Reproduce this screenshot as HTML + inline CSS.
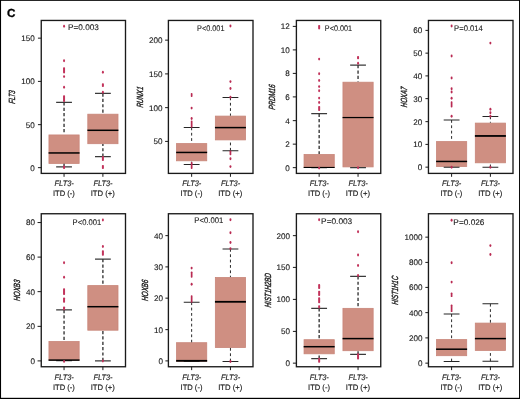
<!DOCTYPE html>
<html lang="en">
<head>
<meta charset="utf-8">
<title>Figure C</title>
<style>
html,body{margin:0;padding:0;background:#fff;}
body{width:520px;height:399px;overflow:hidden;}
svg{display:block;}
</style>
</head>
<body>
<svg width="520" height="399" viewBox="0 0 520 399" font-family="'Liberation Sans', sans-serif" role="img" aria-label="Box plots of gene expression by FLT3-ITD status" text-rendering="geometricPrecision">
<rect x="0" y="0" width="520" height="399" fill="#fff"/>
<rect x="0" y="0" width="520" height="0.85" fill="#000"/>
<rect x="0" y="0" width="1.05" height="399" fill="#000"/>
<rect x="519.05" y="0" width="0.95" height="399" fill="#000"/>
<rect x="0" y="397.8" width="520" height="1.2" fill="#000"/>
<text x="7.1" y="17.35" font-size="11.7" font-weight="bold" fill="#000" stroke="#000" stroke-width="0.3">C</text>
<g>
<rect x="48.95" y="134.95" width="30.2" height="28.45" fill="#cf8f82" stroke="#c88579" stroke-width="0.8"/>
<path d="M64.05 102.35V134.55M64.05 166.9V163.8" stroke="#2a2a2a" stroke-width="1.3" stroke-dasharray="3.2 2.15" fill="none"/>
<path d="M56.15 102.35H71.95M56.15 166.9H71.95" stroke="#3a3a3a" stroke-width="1.3" fill="none"/>
<path d="M48.55 152.95H79.55" stroke="#000" stroke-width="1.5" fill="none"/>
<rect x="87.8" y="114.2" width="30.2" height="29.5" fill="#cf8f82" stroke="#c88579" stroke-width="0.8"/>
<path d="M102.9 93.45V113.8M102.9 156.7V144.1" stroke="#2a2a2a" stroke-width="1.3" stroke-dasharray="3.2 2.15" fill="none"/>
<path d="M95 93.45H110.8M95 156.7H110.8" stroke="#3a3a3a" stroke-width="1.3" fill="none"/>
<path d="M87.4 130.3H118.4" stroke="#000" stroke-width="1.5" fill="none"/>
<ellipse cx="64.05" cy="26.3" rx="1" ry="1.45" fill="#c2335b"/>
<ellipse cx="64.05" cy="60.7" rx="1" ry="1.45" fill="#c2335b"/>
<rect x="63.05" y="67.2" width="2" height="6.2" rx="0.8" fill="#c2335b"/>
<ellipse cx="64.05" cy="76.6" rx="1" ry="1.45" fill="#c2335b"/>
<ellipse cx="64.05" cy="87.2" rx="1" ry="1.45" fill="#c2335b"/>
<rect x="63.05" y="95.3" width="2" height="6.7" rx="0.8" fill="#c2335b"/>
<rect x="63.05" y="165.5" width="2" height="3.5" rx="0.8" fill="#c2335b"/>
<ellipse cx="102.9" cy="72.2" rx="1" ry="1.45" fill="#c2335b"/>
<rect x="101.9" y="83.2" width="2" height="3.9" rx="0.8" fill="#c2335b"/>
<ellipse cx="102.9" cy="92.2" rx="1" ry="1.45" fill="#c2335b"/>
<rect x="101.9" y="156" width="2" height="5" rx="0.8" fill="#c2335b"/>
<rect x="101.9" y="164.9" width="2" height="4.2" rx="0.8" fill="#c2335b"/>
<rect x="41.25" y="20.45" width="84.25" height="152.95" fill="none" stroke="#1a1a1a" stroke-width="1.35"/>
<path d="M37.95 38.15H41.25" stroke="#1a1a1a" stroke-width="1"/>
<text x="34.65" y="41" font-size="8.1" text-anchor="end" fill="#1a1a1a" stroke="#1a1a1a" stroke-width="0.12">150</text>
<path d="M37.95 81.4H41.25" stroke="#1a1a1a" stroke-width="1"/>
<text x="34.65" y="84.25" font-size="8.1" text-anchor="end" fill="#1a1a1a" stroke="#1a1a1a" stroke-width="0.12">100</text>
<path d="M37.95 124.65H41.25" stroke="#1a1a1a" stroke-width="1"/>
<text x="34.65" y="127.5" font-size="8.1" text-anchor="end" fill="#1a1a1a" stroke="#1a1a1a" stroke-width="0.12">50</text>
<path d="M37.95 167.65H41.25" stroke="#1a1a1a" stroke-width="1"/>
<text x="34.65" y="170.5" font-size="8.1" text-anchor="end" fill="#1a1a1a" stroke="#1a1a1a" stroke-width="0.12">0</text>
<path d="M64.05 173.4V176.8" stroke="#1a1a1a" stroke-width="1"/>
<text x="54.55" y="186.45" font-size="7.9" font-style="italic" textLength="19.2" lengthAdjust="spacingAndGlyphs" fill="#1a1a1a" stroke="#1a1a1a" stroke-width="0.15">FLT3-</text>
<text x="52.95" y="196.2" font-size="7.9" textLength="21.9" lengthAdjust="spacingAndGlyphs" fill="#1a1a1a" stroke="#1a1a1a" stroke-width="0.15">ITD (-)</text>
<path d="M102.9 173.4V176.8" stroke="#1a1a1a" stroke-width="1"/>
<text x="93.4" y="186.45" font-size="7.9" font-style="italic" textLength="19.2" lengthAdjust="spacingAndGlyphs" fill="#1a1a1a" stroke="#1a1a1a" stroke-width="0.15">FLT3-</text>
<text x="90.65" y="196.2" font-size="7.9" textLength="24.2" lengthAdjust="spacingAndGlyphs" fill="#1a1a1a" stroke="#1a1a1a" stroke-width="0.15">ITD (+)</text>
<text x="68" y="29.9" font-size="8.1" textLength="30.9" lengthAdjust="spacingAndGlyphs" fill="#1a1a1a" stroke="#1a1a1a" stroke-width="0.1">P=0.003</text>
<text transform="translate(15.4 97.33) rotate(-90) scale(0.66 1) skewX(-12)" font-size="8.9" font-style="italic" text-anchor="middle" fill="#1a1a1a" stroke="#1a1a1a" stroke-width="0.4">FLT3</text>
</g>
<g>
<rect x="176.55" y="143.6" width="30.2" height="17.2" fill="#cf8f82" stroke="#c88579" stroke-width="0.8"/>
<path d="M191.65 127.45V143.2M191.65 164.45V161.2" stroke="#2a2a2a" stroke-width="1" stroke-dasharray="2.8 2.55" fill="none"/>
<path d="M183.75 127.45H199.55M183.75 164.45H199.55" stroke="#262626" stroke-width="1.05" fill="none"/>
<path d="M176.15 152.45H207.15" stroke="#000" stroke-width="1.5" fill="none"/>
<rect x="215.35" y="116.1" width="30.2" height="23.8" fill="#cf8f82" stroke="#c88579" stroke-width="0.8"/>
<path d="M230.45 97.45V115.7M230.45 150.7V140.3" stroke="#2a2a2a" stroke-width="1" stroke-dasharray="2.8 2.55" fill="none"/>
<path d="M222.55 97.45H238.35M222.55 150.7H238.35" stroke="#262626" stroke-width="1.05" fill="none"/>
<path d="M214.95 127.6H245.95" stroke="#000" stroke-width="1.5" fill="none"/>
<rect x="190.8" y="93" width="1.7" height="4" rx="0.68" fill="#b92a52"/>
<ellipse cx="191.65" cy="108.1" rx="1" ry="1.45" fill="#b92a52"/>
<ellipse cx="191.65" cy="118.45" rx="1" ry="1.45" fill="#b92a52"/>
<rect x="190.8" y="120.4" width="1.7" height="7.3" rx="0.68" fill="#b92a52"/>
<rect x="190.8" y="162" width="1.7" height="7" rx="0.68" fill="#b92a52"/>
<ellipse cx="230.45" cy="25.95" rx="1" ry="1.45" fill="#b92a52"/>
<ellipse cx="230.45" cy="81.6" rx="1" ry="1.45" fill="#b92a52"/>
<ellipse cx="230.45" cy="88.45" rx="1" ry="1.45" fill="#b92a52"/>
<ellipse cx="230.45" cy="97.2" rx="1" ry="1.45" fill="#b92a52"/>
<rect x="229.6" y="150.5" width="1.7" height="4.7" rx="0.68" fill="#b92a52"/>
<ellipse cx="230.45" cy="158.7" rx="1" ry="1.45" fill="#b92a52"/>
<ellipse cx="230.45" cy="166.6" rx="1" ry="1.45" fill="#b92a52"/>
<rect x="168.4" y="20.45" width="84.6" height="152.95" fill="none" stroke="#1a1a1a" stroke-width="1.35"/>
<path d="M165.1 40.15H168.4" stroke="#1a1a1a" stroke-width="1"/>
<text x="162.6" y="43" font-size="8.1" text-anchor="end" fill="#1a1a1a" stroke="#1a1a1a" stroke-width="0.12">200</text>
<path d="M165.1 73.9H168.4" stroke="#1a1a1a" stroke-width="1"/>
<text x="162.6" y="76.75" font-size="8.1" text-anchor="end" fill="#1a1a1a" stroke="#1a1a1a" stroke-width="0.12">150</text>
<path d="M165.1 107.65H168.4" stroke="#1a1a1a" stroke-width="1"/>
<text x="162.6" y="110.5" font-size="8.1" text-anchor="end" fill="#1a1a1a" stroke="#1a1a1a" stroke-width="0.12">100</text>
<path d="M165.1 141.4H168.4" stroke="#1a1a1a" stroke-width="1"/>
<text x="162.6" y="144.25" font-size="8.1" text-anchor="end" fill="#1a1a1a" stroke="#1a1a1a" stroke-width="0.12">50</text>
<path d="M191.65 173.4V176.8" stroke="#1a1a1a" stroke-width="1"/>
<text x="182.15" y="186.45" font-size="7.9" font-style="italic" textLength="19.2" lengthAdjust="spacingAndGlyphs" fill="#1a1a1a" stroke="#1a1a1a" stroke-width="0.15">FLT3-</text>
<text x="180.55" y="196.2" font-size="7.9" textLength="21.9" lengthAdjust="spacingAndGlyphs" fill="#1a1a1a" stroke="#1a1a1a" stroke-width="0.15">ITD (-)</text>
<path d="M230.45 173.4V176.8" stroke="#1a1a1a" stroke-width="1"/>
<text x="220.95" y="186.45" font-size="7.9" font-style="italic" textLength="19.2" lengthAdjust="spacingAndGlyphs" fill="#1a1a1a" stroke="#1a1a1a" stroke-width="0.15">FLT3-</text>
<text x="218.2" y="196.2" font-size="7.9" textLength="24.2" lengthAdjust="spacingAndGlyphs" fill="#1a1a1a" stroke="#1a1a1a" stroke-width="0.15">ITD (+)</text>
<text x="197.1" y="30.9" font-size="8.1" textLength="27.4" lengthAdjust="spacingAndGlyphs" fill="#1a1a1a" stroke="#1a1a1a" stroke-width="0.1">P&lt;0.001</text>
<text transform="translate(143 97.33) rotate(-90) scale(0.7 1) skewX(-12)" font-size="8.9" font-style="italic" text-anchor="middle" fill="#1a1a1a" stroke="#1a1a1a" stroke-width="0.4">RUNX1</text>
</g>
<g>
<rect x="304.05" y="154.5" width="30.2" height="12.9" fill="#cf8f82" stroke="#c88579" stroke-width="0.8"/>
<path d="M319.15 113.7V154.1" stroke="#2a2a2a" stroke-width="1.3" stroke-dasharray="3.2 2.15" fill="none"/>
<path d="M311.25 113.7H327.05M311.25 167.6H327.05" stroke="#3a3a3a" stroke-width="1.3" fill="none"/>
<path d="M303.65 167.45H334.65" stroke="#000" stroke-width="1.1" fill="none"/>
<rect x="342.95" y="82.2" width="30.2" height="84.7" fill="#cf8f82" stroke="#c88579" stroke-width="0.8"/>
<path d="M358.05 65.1V81.8" stroke="#2a2a2a" stroke-width="1.3" stroke-dasharray="3.2 2.15" fill="none"/>
<path d="M350.15 65.1H365.95M350.15 167.7H365.95" stroke="#3a3a3a" stroke-width="1.3" fill="none"/>
<path d="M342.55 117.55H373.55" stroke="#000" stroke-width="1.25" fill="none"/>
<rect x="318.15" y="25" width="2" height="4.4" rx="0.8" fill="#c2335b"/>
<ellipse cx="319.15" cy="59.1" rx="1" ry="1.45" fill="#c2335b"/>
<ellipse cx="319.15" cy="73.7" rx="1" ry="1.45" fill="#c2335b"/>
<ellipse cx="319.15" cy="80.45" rx="1" ry="1.45" fill="#c2335b"/>
<ellipse cx="319.15" cy="86.6" rx="1" ry="1.45" fill="#c2335b"/>
<ellipse cx="319.15" cy="90.7" rx="1" ry="1.45" fill="#c2335b"/>
<ellipse cx="319.15" cy="98.1" rx="1" ry="1.45" fill="#c2335b"/>
<ellipse cx="319.15" cy="102.45" rx="1" ry="1.45" fill="#c2335b"/>
<rect x="318.15" y="105.95" width="2" height="5" rx="0.8" fill="#c2335b"/>
<ellipse cx="319.15" cy="168.1" rx="1" ry="1.45" fill="#c2335b"/>
<rect x="357.05" y="56" width="2" height="3.2" rx="0.8" fill="#c2335b"/>
<ellipse cx="358.05" cy="63.2" rx="1" ry="1.45" fill="#c2335b"/>
<ellipse cx="358.05" cy="167.8" rx="1" ry="1.45" fill="#c2335b"/>
<rect x="296.4" y="20.45" width="84.35" height="152.95" fill="none" stroke="#1a1a1a" stroke-width="1.35"/>
<path d="M292.8 26.4H296.4" stroke="#1a1a1a" stroke-width="1"/>
<text x="289.8" y="29.25" font-size="8.1" text-anchor="end" fill="#1a1a1a" stroke="#1a1a1a" stroke-width="0.12">12</text>
<path d="M292.8 49.9H296.4" stroke="#1a1a1a" stroke-width="1"/>
<text x="289.8" y="52.75" font-size="8.1" text-anchor="end" fill="#1a1a1a" stroke="#1a1a1a" stroke-width="0.12">10</text>
<path d="M292.8 73.4H296.4" stroke="#1a1a1a" stroke-width="1"/>
<text x="289.8" y="76.25" font-size="8.1" text-anchor="end" fill="#1a1a1a" stroke="#1a1a1a" stroke-width="0.12">8</text>
<path d="M292.8 96.9H296.4" stroke="#1a1a1a" stroke-width="1"/>
<text x="289.8" y="99.75" font-size="8.1" text-anchor="end" fill="#1a1a1a" stroke="#1a1a1a" stroke-width="0.12">6</text>
<path d="M292.8 120.65H296.4" stroke="#1a1a1a" stroke-width="1"/>
<text x="289.8" y="123.5" font-size="8.1" text-anchor="end" fill="#1a1a1a" stroke="#1a1a1a" stroke-width="0.12">4</text>
<path d="M292.8 144.15H296.4" stroke="#1a1a1a" stroke-width="1"/>
<text x="289.8" y="147" font-size="8.1" text-anchor="end" fill="#1a1a1a" stroke="#1a1a1a" stroke-width="0.12">2</text>
<path d="M292.8 167.65H296.4" stroke="#1a1a1a" stroke-width="1"/>
<text x="289.8" y="170.5" font-size="8.1" text-anchor="end" fill="#1a1a1a" stroke="#1a1a1a" stroke-width="0.12">0</text>
<path d="M319.15 173.4V176.8" stroke="#1a1a1a" stroke-width="1"/>
<text x="309.65" y="186.45" font-size="7.9" font-style="italic" textLength="19.2" lengthAdjust="spacingAndGlyphs" fill="#1a1a1a" stroke="#1a1a1a" stroke-width="0.15">FLT3-</text>
<text x="308.05" y="196.2" font-size="7.9" textLength="21.9" lengthAdjust="spacingAndGlyphs" fill="#1a1a1a" stroke="#1a1a1a" stroke-width="0.15">ITD (-)</text>
<path d="M358.05 173.4V176.8" stroke="#1a1a1a" stroke-width="1"/>
<text x="348.55" y="186.45" font-size="7.9" font-style="italic" textLength="19.2" lengthAdjust="spacingAndGlyphs" fill="#1a1a1a" stroke="#1a1a1a" stroke-width="0.15">FLT3-</text>
<text x="345.8" y="196.2" font-size="7.9" textLength="24.2" lengthAdjust="spacingAndGlyphs" fill="#1a1a1a" stroke="#1a1a1a" stroke-width="0.15">ITD (+)</text>
<text x="324.85" y="30.9" font-size="8.1" textLength="27.15" lengthAdjust="spacingAndGlyphs" fill="#1a1a1a" stroke="#1a1a1a" stroke-width="0.1">P&lt;0.001</text>
<text transform="translate(275.1 97.33) rotate(-90) scale(0.7 1) skewX(-12)" font-size="8.9" font-style="italic" text-anchor="middle" fill="#1a1a1a" stroke="#1a1a1a" stroke-width="0.4">PRDM16</text>
</g>
<g>
<rect x="436.5" y="141.6" width="30.2" height="24.95" fill="#cf8f82" stroke="#c88579" stroke-width="0.8"/>
<path d="M451.6 120V141.2" stroke="#2a2a2a" stroke-width="1" stroke-dasharray="2.8 2.55" fill="none"/>
<path d="M443.7 120H459.5M443.7 167.3H459.5" stroke="#262626" stroke-width="1.05" fill="none"/>
<path d="M436.1 161.45H467.1" stroke="#000" stroke-width="1.5" fill="none"/>
<rect x="475.3" y="123.1" width="30.2" height="39.7" fill="#cf8f82" stroke="#c88579" stroke-width="0.8"/>
<path d="M490.4 116.45V122.7M490.4 167.3V163.2" stroke="#2a2a2a" stroke-width="1" stroke-dasharray="2.8 2.55" fill="none"/>
<path d="M482.5 116.45H498.3M482.5 167.3H498.3" stroke="#262626" stroke-width="1.05" fill="none"/>
<path d="M474.9 135.95H505.9" stroke="#000" stroke-width="1.8" fill="none"/>
<ellipse cx="451.6" cy="25.95" rx="1" ry="1.45" fill="#b92a52"/>
<ellipse cx="451.6" cy="55.95" rx="1" ry="1.45" fill="#b92a52"/>
<ellipse cx="451.6" cy="77.95" rx="1" ry="1.45" fill="#b92a52"/>
<ellipse cx="451.6" cy="88.8" rx="1" ry="1.45" fill="#b92a52"/>
<ellipse cx="451.6" cy="91.95" rx="1" ry="1.45" fill="#b92a52"/>
<ellipse cx="451.6" cy="98.2" rx="1" ry="1.45" fill="#b92a52"/>
<rect x="450.75" y="101.2" width="1.7" height="6.25" rx="0.68" fill="#b92a52"/>
<ellipse cx="451.6" cy="116.3" rx="1" ry="1.45" fill="#b92a52"/>
<ellipse cx="451.6" cy="167.3" rx="1" ry="1.45" fill="#b92a52"/>
<ellipse cx="490.4" cy="43.1" rx="1" ry="1.45" fill="#b92a52"/>
<ellipse cx="490.4" cy="109.2" rx="1" ry="1.45" fill="#b92a52"/>
<ellipse cx="490.4" cy="112.8" rx="1" ry="1.45" fill="#b92a52"/>
<ellipse cx="490.4" cy="116.2" rx="1" ry="1.45" fill="#b92a52"/>
<ellipse cx="490.4" cy="167.3" rx="1" ry="1.45" fill="#b92a52"/>
<rect x="428.45" y="20.45" width="84.55" height="152.95" fill="none" stroke="#1a1a1a" stroke-width="1.35"/>
<path d="M425.45 30.4H428.45" stroke="#1a1a1a" stroke-width="1"/>
<text x="422.2" y="33.25" font-size="8.1" text-anchor="end" fill="#1a1a1a" stroke="#1a1a1a" stroke-width="0.12">60</text>
<path d="M425.45 53.15H428.45" stroke="#1a1a1a" stroke-width="1"/>
<text x="422.2" y="56" font-size="8.1" text-anchor="end" fill="#1a1a1a" stroke="#1a1a1a" stroke-width="0.12">50</text>
<path d="M425.45 75.9H428.45" stroke="#1a1a1a" stroke-width="1"/>
<text x="422.2" y="78.75" font-size="8.1" text-anchor="end" fill="#1a1a1a" stroke="#1a1a1a" stroke-width="0.12">40</text>
<path d="M425.45 98.65H428.45" stroke="#1a1a1a" stroke-width="1"/>
<text x="422.2" y="101.5" font-size="8.1" text-anchor="end" fill="#1a1a1a" stroke="#1a1a1a" stroke-width="0.12">30</text>
<path d="M425.45 121.65H428.45" stroke="#1a1a1a" stroke-width="1"/>
<text x="422.2" y="124.5" font-size="8.1" text-anchor="end" fill="#1a1a1a" stroke="#1a1a1a" stroke-width="0.12">20</text>
<path d="M425.45 144.4H428.45" stroke="#1a1a1a" stroke-width="1"/>
<text x="422.2" y="147.25" font-size="8.1" text-anchor="end" fill="#1a1a1a" stroke="#1a1a1a" stroke-width="0.12">10</text>
<path d="M425.45 167.15H428.45" stroke="#1a1a1a" stroke-width="1"/>
<text x="422.2" y="170" font-size="8.1" text-anchor="end" fill="#1a1a1a" stroke="#1a1a1a" stroke-width="0.12">0</text>
<path d="M451.6 173.4V176.8" stroke="#1a1a1a" stroke-width="1"/>
<text x="442.1" y="186.45" font-size="7.9" font-style="italic" textLength="19.2" lengthAdjust="spacingAndGlyphs" fill="#1a1a1a" stroke="#1a1a1a" stroke-width="0.15">FLT3-</text>
<text x="440.5" y="196.2" font-size="7.9" textLength="21.9" lengthAdjust="spacingAndGlyphs" fill="#1a1a1a" stroke="#1a1a1a" stroke-width="0.15">ITD (-)</text>
<path d="M490.4 173.4V176.8" stroke="#1a1a1a" stroke-width="1"/>
<text x="480.9" y="186.45" font-size="7.9" font-style="italic" textLength="19.2" lengthAdjust="spacingAndGlyphs" fill="#1a1a1a" stroke="#1a1a1a" stroke-width="0.15">FLT3-</text>
<text x="478.15" y="196.2" font-size="7.9" textLength="24.2" lengthAdjust="spacingAndGlyphs" fill="#1a1a1a" stroke="#1a1a1a" stroke-width="0.15">ITD (+)</text>
<text x="454.1" y="30.65" font-size="8.1" textLength="28.65" lengthAdjust="spacingAndGlyphs" fill="#1a1a1a" stroke="#1a1a1a" stroke-width="0.1">P=0.014</text>
<text transform="translate(407.3 97.33) rotate(-90) scale(0.67 1) skewX(-12)" font-size="8.9" font-style="italic" text-anchor="middle" fill="#1a1a1a" stroke="#1a1a1a" stroke-width="0.4">HOXA7</text>
</g>
<g>
<rect x="48.95" y="341.5" width="30.2" height="18.7" fill="#cf8f82" stroke="#c88579" stroke-width="0.8"/>
<path d="M64.05 309.95V341.1" stroke="#2a2a2a" stroke-width="1.3" stroke-dasharray="3.2 2.15" fill="none"/>
<path d="M56.15 309.95H71.95M56.15 360.7H71.95" stroke="#3a3a3a" stroke-width="1.3" fill="none"/>
<path d="M48.55 360.1H79.55" stroke="#000" stroke-width="1.5" fill="none"/>
<rect x="87.8" y="285.6" width="30.2" height="44.6" fill="#cf8f82" stroke="#c88579" stroke-width="0.8"/>
<path d="M102.9 259.1V285.2M102.9 360.95V330.6" stroke="#2a2a2a" stroke-width="1.3" stroke-dasharray="3.2 2.15" fill="none"/>
<path d="M95 259.1H110.8M95 360.95H110.8" stroke="#3a3a3a" stroke-width="1.3" fill="none"/>
<path d="M87.4 306.7H118.4" stroke="#000" stroke-width="1.5" fill="none"/>
<ellipse cx="64.05" cy="262.7" rx="1" ry="1.45" fill="#c2335b"/>
<ellipse cx="64.05" cy="277.3" rx="1" ry="1.45" fill="#c2335b"/>
<rect x="63.05" y="288.3" width="2" height="6.65" rx="0.8" fill="#c2335b"/>
<rect x="63.05" y="297.45" width="2" height="5.25" rx="0.8" fill="#c2335b"/>
<rect x="63.05" y="306.45" width="2" height="3.75" rx="0.8" fill="#c2335b"/>
<ellipse cx="64.05" cy="361.4" rx="1" ry="1.45" fill="#c2335b"/>
<ellipse cx="102.9" cy="219.95" rx="1" ry="1.45" fill="#c2335b"/>
<ellipse cx="102.9" cy="246.45" rx="1" ry="1.45" fill="#c2335b"/>
<rect x="101.9" y="250.2" width="2" height="5.6" rx="0.8" fill="#c2335b"/>
<ellipse cx="102.9" cy="361" rx="1" ry="1.45" fill="#c2335b"/>
<rect x="41.25" y="213.75" width="84.25" height="153" fill="none" stroke="#1a1a1a" stroke-width="1.35"/>
<path d="M37.55 222.55H41.25" stroke="#1a1a1a" stroke-width="1"/>
<text x="35" y="225.4" font-size="8.1" text-anchor="end" fill="#1a1a1a" stroke="#1a1a1a" stroke-width="0.12">80</text>
<path d="M37.55 257.1H41.25" stroke="#1a1a1a" stroke-width="1"/>
<text x="35" y="259.95" font-size="8.1" text-anchor="end" fill="#1a1a1a" stroke="#1a1a1a" stroke-width="0.12">60</text>
<path d="M37.55 291.65H41.25" stroke="#1a1a1a" stroke-width="1"/>
<text x="35" y="294.5" font-size="8.1" text-anchor="end" fill="#1a1a1a" stroke="#1a1a1a" stroke-width="0.12">40</text>
<path d="M37.55 326.35H41.25" stroke="#1a1a1a" stroke-width="1"/>
<text x="35" y="329.2" font-size="8.1" text-anchor="end" fill="#1a1a1a" stroke="#1a1a1a" stroke-width="0.12">20</text>
<path d="M37.55 360.9H41.25" stroke="#1a1a1a" stroke-width="1"/>
<text x="35" y="363.75" font-size="8.1" text-anchor="end" fill="#1a1a1a" stroke="#1a1a1a" stroke-width="0.12">0</text>
<path d="M64.05 366.75V370.15" stroke="#1a1a1a" stroke-width="1"/>
<text x="54.55" y="379.8" font-size="7.9" font-style="italic" textLength="19.2" lengthAdjust="spacingAndGlyphs" fill="#1a1a1a" stroke="#1a1a1a" stroke-width="0.15">FLT3-</text>
<text x="52.95" y="389.55" font-size="7.9" textLength="21.9" lengthAdjust="spacingAndGlyphs" fill="#1a1a1a" stroke="#1a1a1a" stroke-width="0.15">ITD (-)</text>
<path d="M102.9 366.75V370.15" stroke="#1a1a1a" stroke-width="1"/>
<text x="93.4" y="379.8" font-size="7.9" font-style="italic" textLength="19.2" lengthAdjust="spacingAndGlyphs" fill="#1a1a1a" stroke="#1a1a1a" stroke-width="0.15">FLT3-</text>
<text x="90.65" y="389.55" font-size="7.9" textLength="24.2" lengthAdjust="spacingAndGlyphs" fill="#1a1a1a" stroke="#1a1a1a" stroke-width="0.15">ITD (+)</text>
<text x="72.6" y="224.65" font-size="8.1" textLength="28.65" lengthAdjust="spacingAndGlyphs" fill="#1a1a1a" stroke="#1a1a1a" stroke-width="0.1">P&lt;0.001</text>
<text transform="translate(20.1 290.65) rotate(-90) scale(0.7 1) skewX(-12)" font-size="8.9" font-style="italic" text-anchor="middle" fill="#1a1a1a" stroke="#1a1a1a" stroke-width="0.4">HOXB3</text>
</g>
<g>
<rect x="176.55" y="342.7" width="30.2" height="18.6" fill="#cf8f82" stroke="#c88579" stroke-width="0.8"/>
<path d="M191.65 302.3V342.3" stroke="#2a2a2a" stroke-width="1" stroke-dasharray="2.8 2.55" fill="none"/>
<path d="M183.75 302.3H199.55M183.75 361.2H199.55" stroke="#262626" stroke-width="1.05" fill="none"/>
<path d="M176.15 360.8H207.15" stroke="#000" stroke-width="1.8" fill="none"/>
<rect x="215.35" y="277.5" width="30.2" height="70.05" fill="#cf8f82" stroke="#c88579" stroke-width="0.8"/>
<path d="M230.45 248.95V277.1M230.45 361.45V347.95" stroke="#2a2a2a" stroke-width="1" stroke-dasharray="2.8 2.55" fill="none"/>
<path d="M222.55 248.95H238.35M222.55 361.45H238.35" stroke="#262626" stroke-width="1.05" fill="none"/>
<path d="M214.95 301.8H245.95" stroke="#000" stroke-width="1.8" fill="none"/>
<ellipse cx="191.65" cy="268.1" rx="1" ry="1.45" fill="#b92a52"/>
<rect x="190.8" y="271.45" width="1.7" height="6.25" rx="0.68" fill="#b92a52"/>
<ellipse cx="191.65" cy="284.2" rx="1" ry="1.45" fill="#b92a52"/>
<rect x="190.8" y="295.2" width="1.7" height="7.5" rx="0.68" fill="#b92a52"/>
<ellipse cx="230.45" cy="219.8" rx="1" ry="1.45" fill="#b92a52"/>
<ellipse cx="230.45" cy="232.7" rx="1" ry="1.45" fill="#b92a52"/>
<ellipse cx="230.45" cy="242.45" rx="1" ry="1.45" fill="#b92a52"/>
<ellipse cx="230.45" cy="248.6" rx="1" ry="1.45" fill="#b92a52"/>
<ellipse cx="230.45" cy="361.45" rx="1" ry="1.45" fill="#b92a52"/>
<rect x="168.4" y="213.75" width="84.6" height="153" fill="none" stroke="#1a1a1a" stroke-width="1.35"/>
<path d="M165.4 235.65H168.4" stroke="#1a1a1a" stroke-width="1"/>
<text x="163" y="238.5" font-size="8.1" text-anchor="end" fill="#1a1a1a" stroke="#1a1a1a" stroke-width="0.12">40</text>
<path d="M165.4 266.9H168.4" stroke="#1a1a1a" stroke-width="1"/>
<text x="163" y="269.75" font-size="8.1" text-anchor="end" fill="#1a1a1a" stroke="#1a1a1a" stroke-width="0.12">30</text>
<path d="M165.4 298.15H168.4" stroke="#1a1a1a" stroke-width="1"/>
<text x="163" y="301" font-size="8.1" text-anchor="end" fill="#1a1a1a" stroke="#1a1a1a" stroke-width="0.12">20</text>
<path d="M165.4 329.65H168.4" stroke="#1a1a1a" stroke-width="1"/>
<text x="163" y="332.5" font-size="8.1" text-anchor="end" fill="#1a1a1a" stroke="#1a1a1a" stroke-width="0.12">10</text>
<path d="M165.4 360.9H168.4" stroke="#1a1a1a" stroke-width="1"/>
<text x="163" y="363.75" font-size="8.1" text-anchor="end" fill="#1a1a1a" stroke="#1a1a1a" stroke-width="0.12">0</text>
<path d="M191.65 366.75V370.15" stroke="#1a1a1a" stroke-width="1"/>
<text x="182.15" y="379.8" font-size="7.9" font-style="italic" textLength="19.2" lengthAdjust="spacingAndGlyphs" fill="#1a1a1a" stroke="#1a1a1a" stroke-width="0.15">FLT3-</text>
<text x="180.55" y="389.55" font-size="7.9" textLength="21.9" lengthAdjust="spacingAndGlyphs" fill="#1a1a1a" stroke="#1a1a1a" stroke-width="0.15">ITD (-)</text>
<path d="M230.45 366.75V370.15" stroke="#1a1a1a" stroke-width="1"/>
<text x="220.95" y="379.8" font-size="7.9" font-style="italic" textLength="19.2" lengthAdjust="spacingAndGlyphs" fill="#1a1a1a" stroke="#1a1a1a" stroke-width="0.15">FLT3-</text>
<text x="218.2" y="389.55" font-size="7.9" textLength="24.2" lengthAdjust="spacingAndGlyphs" fill="#1a1a1a" stroke="#1a1a1a" stroke-width="0.15">ITD (+)</text>
<text x="194.35" y="223.1" font-size="8.1" textLength="28.9" lengthAdjust="spacingAndGlyphs" fill="#1a1a1a" stroke="#1a1a1a" stroke-width="0.1">P&lt;0.001</text>
<text transform="translate(147.6 290.65) rotate(-90) scale(0.7 1) skewX(-12)" font-size="8.9" font-style="italic" text-anchor="middle" fill="#1a1a1a" stroke="#1a1a1a" stroke-width="0.4">HOXB6</text>
</g>
<g>
<rect x="304.05" y="339.7" width="30.2" height="14.1" fill="#cf8f82" stroke="#c88579" stroke-width="0.8"/>
<path d="M319.15 308.3V339.3M319.15 358.7V354.2" stroke="#2a2a2a" stroke-width="1.3" stroke-dasharray="3.2 2.15" fill="none"/>
<path d="M311.25 308.3H327.05M311.25 358.7H327.05" stroke="#3a3a3a" stroke-width="1.3" fill="none"/>
<path d="M303.65 346.7H334.65" stroke="#000" stroke-width="1.5" fill="none"/>
<rect x="342.95" y="308.35" width="30.2" height="42.35" fill="#cf8f82" stroke="#c88579" stroke-width="0.8"/>
<path d="M358.05 276.3V307.95M358.05 354.45V351.1" stroke="#2a2a2a" stroke-width="1.3" stroke-dasharray="3.2 2.15" fill="none"/>
<path d="M350.15 276.3H365.95M350.15 354.45H365.95" stroke="#3a3a3a" stroke-width="1.3" fill="none"/>
<path d="M342.55 338.6H373.55" stroke="#000" stroke-width="1.5" fill="none"/>
<ellipse cx="319.15" cy="219.8" rx="1" ry="1.45" fill="#c2335b"/>
<rect x="318.15" y="284.1" width="2" height="5" rx="0.8" fill="#c2335b"/>
<rect x="318.15" y="290.8" width="2" height="5.2" rx="0.8" fill="#c2335b"/>
<rect x="318.15" y="297.2" width="2" height="6" rx="0.8" fill="#c2335b"/>
<rect x="318.15" y="305.2" width="2" height="3.2" rx="0.8" fill="#c2335b"/>
<rect x="318.15" y="357.7" width="2" height="5" rx="0.8" fill="#c2335b"/>
<ellipse cx="358.05" cy="231.7" rx="1" ry="1.45" fill="#c2335b"/>
<ellipse cx="358.05" cy="254.95" rx="1" ry="1.45" fill="#c2335b"/>
<ellipse cx="358.05" cy="265.5" rx="1" ry="1.45" fill="#c2335b"/>
<ellipse cx="358.05" cy="275.45" rx="1" ry="1.45" fill="#c2335b"/>
<rect x="357.05" y="353.3" width="2" height="6.3" rx="0.8" fill="#c2335b"/>
<rect x="296.4" y="213.75" width="84.35" height="153" fill="none" stroke="#1a1a1a" stroke-width="1.35"/>
<path d="M292.9 235.65H296.4" stroke="#1a1a1a" stroke-width="1"/>
<text x="289.9" y="238.5" font-size="8.1" text-anchor="end" fill="#1a1a1a" stroke="#1a1a1a" stroke-width="0.12">200</text>
<path d="M292.9 267.4H296.4" stroke="#1a1a1a" stroke-width="1"/>
<text x="289.9" y="270.25" font-size="8.1" text-anchor="end" fill="#1a1a1a" stroke="#1a1a1a" stroke-width="0.12">150</text>
<path d="M292.9 299.4H296.4" stroke="#1a1a1a" stroke-width="1"/>
<text x="289.9" y="302.25" font-size="8.1" text-anchor="end" fill="#1a1a1a" stroke="#1a1a1a" stroke-width="0.12">100</text>
<path d="M292.9 331.4H296.4" stroke="#1a1a1a" stroke-width="1"/>
<text x="289.9" y="334.25" font-size="8.1" text-anchor="end" fill="#1a1a1a" stroke="#1a1a1a" stroke-width="0.12">50</text>
<path d="M292.9 363.15H296.4" stroke="#1a1a1a" stroke-width="1"/>
<text x="289.9" y="366" font-size="8.1" text-anchor="end" fill="#1a1a1a" stroke="#1a1a1a" stroke-width="0.12">0</text>
<path d="M319.15 366.75V370.15" stroke="#1a1a1a" stroke-width="1"/>
<text x="309.65" y="379.8" font-size="7.9" font-style="italic" textLength="19.2" lengthAdjust="spacingAndGlyphs" fill="#1a1a1a" stroke="#1a1a1a" stroke-width="0.15">FLT3-</text>
<text x="308.05" y="389.55" font-size="7.9" textLength="21.9" lengthAdjust="spacingAndGlyphs" fill="#1a1a1a" stroke="#1a1a1a" stroke-width="0.15">ITD (-)</text>
<path d="M358.05 366.75V370.15" stroke="#1a1a1a" stroke-width="1"/>
<text x="348.55" y="379.8" font-size="7.9" font-style="italic" textLength="19.2" lengthAdjust="spacingAndGlyphs" fill="#1a1a1a" stroke="#1a1a1a" stroke-width="0.15">FLT3-</text>
<text x="345.8" y="389.55" font-size="7.9" textLength="24.2" lengthAdjust="spacingAndGlyphs" fill="#1a1a1a" stroke="#1a1a1a" stroke-width="0.15">ITD (+)</text>
<text x="321.1" y="223.9" font-size="8.1" textLength="31.15" lengthAdjust="spacingAndGlyphs" fill="#1a1a1a" stroke="#1a1a1a" stroke-width="0.1">P=0.003</text>
<text transform="translate(270.95 290.65) rotate(-90) scale(0.7 1) skewX(-12)" font-size="8.9" font-style="italic" text-anchor="middle" fill="#1a1a1a" stroke="#1a1a1a" stroke-width="0.4">HIST1H2BD</text>
</g>
<g>
<rect x="436.5" y="339.6" width="30.2" height="16.1" fill="#cf8f82" stroke="#c88579" stroke-width="0.8"/>
<path d="M451.6 314V339.2M451.6 361.45V356.1" stroke="#2a2a2a" stroke-width="1" stroke-dasharray="2.8 2.55" fill="none"/>
<path d="M443.7 314H459.5M443.7 361.45H459.5" stroke="#262626" stroke-width="1.05" fill="none"/>
<path d="M436.1 349.2H467.1" stroke="#000" stroke-width="1.5" fill="none"/>
<rect x="475.3" y="323.1" width="30.2" height="27.3" fill="#cf8f82" stroke="#c88579" stroke-width="0.8"/>
<path d="M490.4 303.8V322.7M490.4 361.2V350.8" stroke="#2a2a2a" stroke-width="1" stroke-dasharray="2.8 2.55" fill="none"/>
<path d="M482.5 303.8H498.3M482.5 361.2H498.3" stroke="#262626" stroke-width="1.05" fill="none"/>
<path d="M474.9 338.6H505.9" stroke="#000" stroke-width="1.5" fill="none"/>
<ellipse cx="451.6" cy="220.2" rx="1" ry="1.45" fill="#b92a52"/>
<ellipse cx="451.6" cy="262.7" rx="1" ry="1.45" fill="#b92a52"/>
<ellipse cx="451.6" cy="282.1" rx="1" ry="1.45" fill="#b92a52"/>
<rect x="450.75" y="292.45" width="1.7" height="4.65" rx="0.68" fill="#b92a52"/>
<rect x="450.75" y="304.6" width="1.7" height="7.5" rx="0.68" fill="#b92a52"/>
<ellipse cx="490.4" cy="245.6" rx="1" ry="1.45" fill="#b92a52"/>
<ellipse cx="490.4" cy="254.45" rx="1" ry="1.45" fill="#b92a52"/>
<rect x="428.45" y="213.75" width="84.55" height="153" fill="none" stroke="#1a1a1a" stroke-width="1.35"/>
<path d="M425.35 237.15H428.45" stroke="#1a1a1a" stroke-width="1"/>
<text x="422.5" y="240" font-size="8.1" text-anchor="end" fill="#1a1a1a" stroke="#1a1a1a" stroke-width="0.12">1000</text>
<path d="M425.35 262.4H428.45" stroke="#1a1a1a" stroke-width="1"/>
<text x="422.5" y="265.25" font-size="8.1" text-anchor="end" fill="#1a1a1a" stroke="#1a1a1a" stroke-width="0.12">800</text>
<path d="M425.35 287.4H428.45" stroke="#1a1a1a" stroke-width="1"/>
<text x="422.5" y="290.25" font-size="8.1" text-anchor="end" fill="#1a1a1a" stroke="#1a1a1a" stroke-width="0.12">600</text>
<path d="M425.35 312.65H428.45" stroke="#1a1a1a" stroke-width="1"/>
<text x="422.5" y="315.5" font-size="8.1" text-anchor="end" fill="#1a1a1a" stroke="#1a1a1a" stroke-width="0.12">400</text>
<path d="M425.35 337.9H428.45" stroke="#1a1a1a" stroke-width="1"/>
<text x="422.5" y="340.75" font-size="8.1" text-anchor="end" fill="#1a1a1a" stroke="#1a1a1a" stroke-width="0.12">200</text>
<path d="M425.35 363.15H428.45" stroke="#1a1a1a" stroke-width="1"/>
<text x="422.5" y="366" font-size="8.1" text-anchor="end" fill="#1a1a1a" stroke="#1a1a1a" stroke-width="0.12">0</text>
<path d="M451.6 366.75V370.15" stroke="#1a1a1a" stroke-width="1"/>
<text x="442.1" y="379.8" font-size="7.9" font-style="italic" textLength="19.2" lengthAdjust="spacingAndGlyphs" fill="#1a1a1a" stroke="#1a1a1a" stroke-width="0.15">FLT3-</text>
<text x="440.5" y="389.55" font-size="7.9" textLength="21.9" lengthAdjust="spacingAndGlyphs" fill="#1a1a1a" stroke="#1a1a1a" stroke-width="0.15">ITD (-)</text>
<path d="M490.4 366.75V370.15" stroke="#1a1a1a" stroke-width="1"/>
<text x="480.9" y="379.8" font-size="7.9" font-style="italic" textLength="19.2" lengthAdjust="spacingAndGlyphs" fill="#1a1a1a" stroke="#1a1a1a" stroke-width="0.15">FLT3-</text>
<text x="478.15" y="389.55" font-size="7.9" textLength="24.2" lengthAdjust="spacingAndGlyphs" fill="#1a1a1a" stroke="#1a1a1a" stroke-width="0.15">ITD (+)</text>
<text x="453.35" y="224.65" font-size="8.1" textLength="31.15" lengthAdjust="spacingAndGlyphs" fill="#1a1a1a" stroke="#1a1a1a" stroke-width="0.1">P=0.026</text>
<text transform="translate(398.4 290.65) rotate(-90) scale(0.67 1) skewX(-12)" font-size="8.9" font-style="italic" text-anchor="middle" fill="#1a1a1a" stroke="#1a1a1a" stroke-width="0.4">HIST1H1C</text>
</g>
</svg>
</body>
</html>
